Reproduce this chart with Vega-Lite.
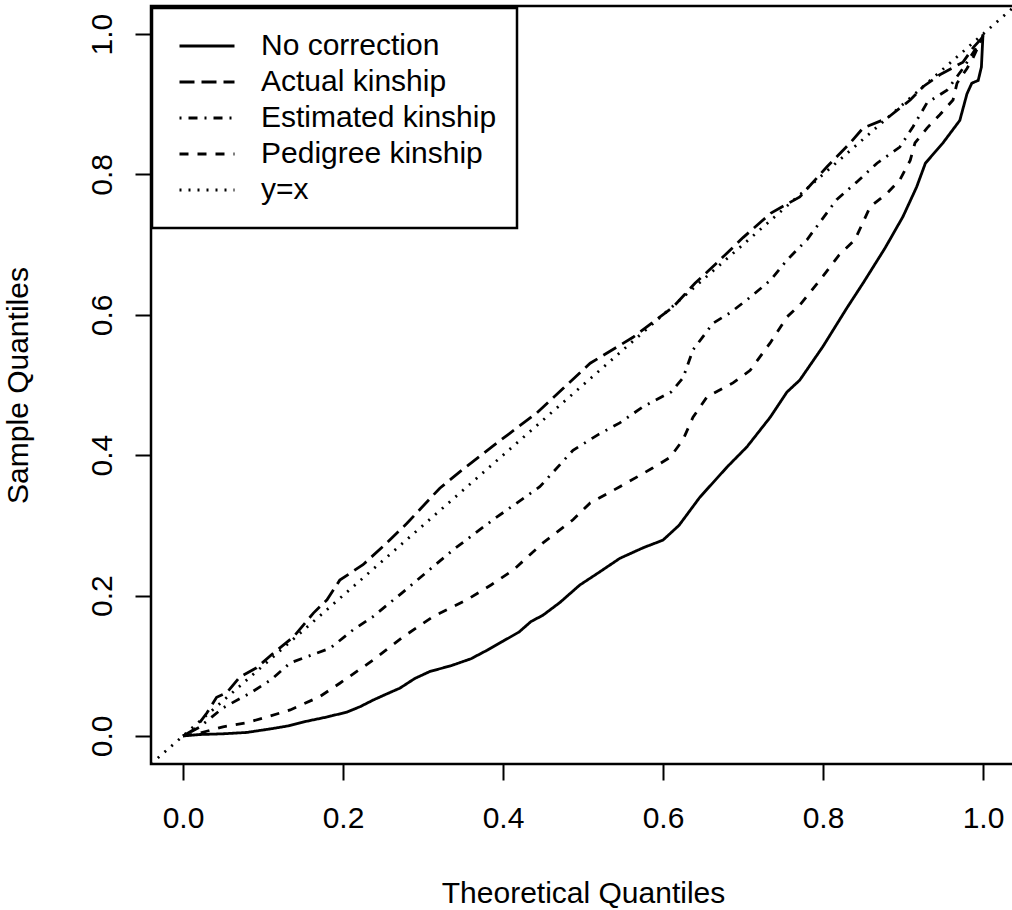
{
  "$schema": "https://vega.github.io/schema/vega-lite/v6.json",
  "width": 864,
  "height": 758,
  "autosize": {"type": "none"},
  "padding": {"left": 151, "top": 6, "right": 0, "bottom": 146},
  "background": "white",
  "config": {
    "font": "Liberation Sans",
    "view": {"stroke": "black", "strokeWidth": 2.5},
    "axis": {
      "grid": false,
      "domain": false,
      "tickColor": "black",
      "tickWidth": 2,
      "tickSize": 16,
      "labelColor": "black",
      "labelFontSize": 30,
      "labelFont": "Liberation Sans",
      "titleFont": "Liberation Sans",
      "titleFontSize": 30,
      "titleFontWeight": "normal",
      "titleColor": "black",
      "labelFlush": false,
      "labelOverlap": false
    },
    "legend": {
      "orient": "none",
      "legendX": 1,
      "legendY": 2,
      "strokeColor": "black",
      "strokeWidth": 2.5,
      "fillColor": "white",
      "padding": 20,
      "symbolType": "stroke",
      "symbolSize": 3025,
      "symbolStrokeColor": "black",
      "symbolOffset": 6,
      "labelOffset": 25,
      "labelFont": "Liberation Sans",
      "labelFontSize": 30,
      "labelColor": "black",
      "labelLimit": 400,
      "clipHeight": 36,
      "rowPadding": 0,
      "title": null
    }
  },
  "datasets": {
    "curves": [
      {"series": "No correction", "x": 0, "y": 0},
      {"series": "No correction", "x": 0.021, "y": 0.002},
      {"series": "No correction", "x": 0.05, "y": 0.003},
      {"series": "No correction", "x": 0.08, "y": 0.005},
      {"series": "No correction", "x": 0.109, "y": 0.01},
      {"series": "No correction", "x": 0.13, "y": 0.014},
      {"series": "No correction", "x": 0.155, "y": 0.021},
      {"series": "No correction", "x": 0.18, "y": 0.027},
      {"series": "No correction", "x": 0.205, "y": 0.034},
      {"series": "No correction", "x": 0.222, "y": 0.042},
      {"series": "No correction", "x": 0.2375, "y": 0.051},
      {"series": "No correction", "x": 0.255, "y": 0.06},
      {"series": "No correction", "x": 0.271, "y": 0.068},
      {"series": "No correction", "x": 0.29, "y": 0.082},
      {"series": "No correction", "x": 0.309, "y": 0.092},
      {"series": "No correction", "x": 0.335, "y": 0.1},
      {"series": "No correction", "x": 0.36, "y": 0.11},
      {"series": "No correction", "x": 0.38, "y": 0.122},
      {"series": "No correction", "x": 0.4, "y": 0.135},
      {"series": "No correction", "x": 0.42, "y": 0.148},
      {"series": "No correction", "x": 0.435, "y": 0.163},
      {"series": "No correction", "x": 0.45, "y": 0.172},
      {"series": "No correction", "x": 0.471, "y": 0.19},
      {"series": "No correction", "x": 0.496, "y": 0.215},
      {"series": "No correction", "x": 0.52, "y": 0.233},
      {"series": "No correction", "x": 0.546, "y": 0.253},
      {"series": "No correction", "x": 0.575, "y": 0.268},
      {"series": "No correction", "x": 0.6, "y": 0.279},
      {"series": "No correction", "x": 0.62, "y": 0.3},
      {"series": "No correction", "x": 0.646, "y": 0.34},
      {"series": "No correction", "x": 0.68, "y": 0.383},
      {"series": "No correction", "x": 0.705, "y": 0.412},
      {"series": "No correction", "x": 0.734, "y": 0.454},
      {"series": "No correction", "x": 0.755, "y": 0.49},
      {"series": "No correction", "x": 0.771, "y": 0.507},
      {"series": "No correction", "x": 0.8, "y": 0.555},
      {"series": "No correction", "x": 0.83, "y": 0.61},
      {"series": "No correction", "x": 0.85, "y": 0.645},
      {"series": "No correction", "x": 0.8775, "y": 0.695},
      {"series": "No correction", "x": 0.9, "y": 0.74},
      {"series": "No correction", "x": 0.917, "y": 0.782},
      {"series": "No correction", "x": 0.928, "y": 0.816},
      {"series": "No correction", "x": 0.95, "y": 0.845},
      {"series": "No correction", "x": 0.971, "y": 0.877},
      {"series": "No correction", "x": 0.98, "y": 0.915},
      {"series": "No correction", "x": 0.986, "y": 0.93},
      {"series": "No correction", "x": 0.994, "y": 0.934},
      {"series": "No correction", "x": 0.998, "y": 0.953},
      {"series": "No correction", "x": 1.0, "y": 1.0},

      {"series": "Actual kinship", "x": 0, "y": 0},
      {"series": "Actual kinship", "x": 0.015, "y": 0.01},
      {"series": "Actual kinship", "x": 0.03, "y": 0.033},
      {"series": "Actual kinship", "x": 0.042, "y": 0.055},
      {"series": "Actual kinship", "x": 0.055, "y": 0.062},
      {"series": "Actual kinship", "x": 0.071, "y": 0.084},
      {"series": "Actual kinship", "x": 0.092, "y": 0.097},
      {"series": "Actual kinship", "x": 0.113, "y": 0.118},
      {"series": "Actual kinship", "x": 0.138, "y": 0.141},
      {"series": "Actual kinship", "x": 0.163, "y": 0.175},
      {"series": "Actual kinship", "x": 0.18, "y": 0.194},
      {"series": "Actual kinship", "x": 0.196, "y": 0.222},
      {"series": "Actual kinship", "x": 0.225, "y": 0.244},
      {"series": "Actual kinship", "x": 0.25, "y": 0.27},
      {"series": "Actual kinship", "x": 0.28, "y": 0.303},
      {"series": "Actual kinship", "x": 0.321, "y": 0.353},
      {"series": "Actual kinship", "x": 0.35, "y": 0.38},
      {"series": "Actual kinship", "x": 0.392, "y": 0.417},
      {"series": "Actual kinship", "x": 0.442, "y": 0.46},
      {"series": "Actual kinship", "x": 0.475, "y": 0.495},
      {"series": "Actual kinship", "x": 0.509, "y": 0.531},
      {"series": "Actual kinship", "x": 0.5625, "y": 0.568},
      {"series": "Actual kinship", "x": 0.6125, "y": 0.611},
      {"series": "Actual kinship", "x": 0.64, "y": 0.645},
      {"series": "Actual kinship", "x": 0.671, "y": 0.678},
      {"series": "Actual kinship", "x": 0.7, "y": 0.71},
      {"series": "Actual kinship", "x": 0.735, "y": 0.745},
      {"series": "Actual kinship", "x": 0.771, "y": 0.768},
      {"series": "Actual kinship", "x": 0.805, "y": 0.811},
      {"series": "Actual kinship", "x": 0.834, "y": 0.845},
      {"series": "Actual kinship", "x": 0.85, "y": 0.866},
      {"series": "Actual kinship", "x": 0.88, "y": 0.88},
      {"series": "Actual kinship", "x": 0.909, "y": 0.906},
      {"series": "Actual kinship", "x": 0.925, "y": 0.925},
      {"series": "Actual kinship", "x": 0.946, "y": 0.942},
      {"series": "Actual kinship", "x": 0.975, "y": 0.96},
      {"series": "Actual kinship", "x": 0.988, "y": 0.981},
      {"series": "Actual kinship", "x": 1.0, "y": 0.996},

      {"series": "Estimated kinship", "x": 0, "y": 0},
      {"series": "Estimated kinship", "x": 0.02, "y": 0.012},
      {"series": "Estimated kinship", "x": 0.05, "y": 0.04},
      {"series": "Estimated kinship", "x": 0.084, "y": 0.061},
      {"series": "Estimated kinship", "x": 0.11, "y": 0.08},
      {"series": "Estimated kinship", "x": 0.134, "y": 0.104},
      {"series": "Estimated kinship", "x": 0.16, "y": 0.115},
      {"series": "Estimated kinship", "x": 0.184, "y": 0.125},
      {"series": "Estimated kinship", "x": 0.2125, "y": 0.151},
      {"series": "Estimated kinship", "x": 0.2375, "y": 0.17},
      {"series": "Estimated kinship", "x": 0.275, "y": 0.205},
      {"series": "Estimated kinship", "x": 0.3125, "y": 0.241},
      {"series": "Estimated kinship", "x": 0.3375, "y": 0.265},
      {"series": "Estimated kinship", "x": 0.3875, "y": 0.308},
      {"series": "Estimated kinship", "x": 0.446, "y": 0.355},
      {"series": "Estimated kinship", "x": 0.4875, "y": 0.407},
      {"series": "Estimated kinship", "x": 0.52, "y": 0.43},
      {"series": "Estimated kinship", "x": 0.546, "y": 0.446},
      {"series": "Estimated kinship", "x": 0.575, "y": 0.469},
      {"series": "Estimated kinship", "x": 0.61, "y": 0.49},
      {"series": "Estimated kinship", "x": 0.625, "y": 0.51},
      {"series": "Estimated kinship", "x": 0.6375, "y": 0.55},
      {"series": "Estimated kinship", "x": 0.6625, "y": 0.588},
      {"series": "Estimated kinship", "x": 0.684, "y": 0.603},
      {"series": "Estimated kinship", "x": 0.709, "y": 0.625},
      {"series": "Estimated kinship", "x": 0.735, "y": 0.65},
      {"series": "Estimated kinship", "x": 0.755, "y": 0.678},
      {"series": "Estimated kinship", "x": 0.78, "y": 0.707},
      {"series": "Estimated kinship", "x": 0.817, "y": 0.764},
      {"series": "Estimated kinship", "x": 0.842, "y": 0.789},
      {"series": "Estimated kinship", "x": 0.8675, "y": 0.816},
      {"series": "Estimated kinship", "x": 0.896, "y": 0.839},
      {"series": "Estimated kinship", "x": 0.9125, "y": 0.868},
      {"series": "Estimated kinship", "x": 0.93, "y": 0.902},
      {"series": "Estimated kinship", "x": 0.955, "y": 0.92},
      {"series": "Estimated kinship", "x": 0.975, "y": 0.951},
      {"series": "Estimated kinship", "x": 0.992, "y": 0.981},
      {"series": "Estimated kinship", "x": 1.0, "y": 0.995},

      {"series": "Pedigree kinship", "x": 0, "y": 0},
      {"series": "Pedigree kinship", "x": 0.021, "y": 0.004},
      {"series": "Pedigree kinship", "x": 0.05, "y": 0.013},
      {"series": "Pedigree kinship", "x": 0.08, "y": 0.019},
      {"series": "Pedigree kinship", "x": 0.105, "y": 0.027},
      {"series": "Pedigree kinship", "x": 0.134, "y": 0.037},
      {"series": "Pedigree kinship", "x": 0.171, "y": 0.056},
      {"series": "Pedigree kinship", "x": 0.196, "y": 0.075},
      {"series": "Pedigree kinship", "x": 0.2375, "y": 0.108},
      {"series": "Pedigree kinship", "x": 0.275, "y": 0.141},
      {"series": "Pedigree kinship", "x": 0.3125, "y": 0.17},
      {"series": "Pedigree kinship", "x": 0.355, "y": 0.194},
      {"series": "Pedigree kinship", "x": 0.385, "y": 0.215},
      {"series": "Pedigree kinship", "x": 0.4125, "y": 0.236},
      {"series": "Pedigree kinship", "x": 0.45, "y": 0.275},
      {"series": "Pedigree kinship", "x": 0.4875, "y": 0.308},
      {"series": "Pedigree kinship", "x": 0.509, "y": 0.332},
      {"series": "Pedigree kinship", "x": 0.546, "y": 0.355},
      {"series": "Pedigree kinship", "x": 0.5875, "y": 0.382},
      {"series": "Pedigree kinship", "x": 0.609, "y": 0.397},
      {"series": "Pedigree kinship", "x": 0.625, "y": 0.422},
      {"series": "Pedigree kinship", "x": 0.6375, "y": 0.454},
      {"series": "Pedigree kinship", "x": 0.655, "y": 0.483},
      {"series": "Pedigree kinship", "x": 0.6875, "y": 0.503},
      {"series": "Pedigree kinship", "x": 0.709, "y": 0.521},
      {"series": "Pedigree kinship", "x": 0.734, "y": 0.56},
      {"series": "Pedigree kinship", "x": 0.755, "y": 0.597},
      {"series": "Pedigree kinship", "x": 0.771, "y": 0.614},
      {"series": "Pedigree kinship", "x": 0.8, "y": 0.655},
      {"series": "Pedigree kinship", "x": 0.82, "y": 0.685},
      {"series": "Pedigree kinship", "x": 0.84, "y": 0.707},
      {"series": "Pedigree kinship", "x": 0.859, "y": 0.754},
      {"series": "Pedigree kinship", "x": 0.88, "y": 0.773},
      {"series": "Pedigree kinship", "x": 0.896, "y": 0.792},
      {"series": "Pedigree kinship", "x": 0.909, "y": 0.82},
      {"series": "Pedigree kinship", "x": 0.915, "y": 0.845},
      {"series": "Pedigree kinship", "x": 0.93, "y": 0.866},
      {"series": "Pedigree kinship", "x": 0.946, "y": 0.885},
      {"series": "Pedigree kinship", "x": 0.9625, "y": 0.906},
      {"series": "Pedigree kinship", "x": 0.9675, "y": 0.93},
      {"series": "Pedigree kinship", "x": 0.98, "y": 0.951},
      {"series": "Pedigree kinship", "x": 0.9875, "y": 0.966},
      {"series": "Pedigree kinship", "x": 0.996, "y": 0.987},
      {"series": "Pedigree kinship", "x": 1.0, "y": 0.998},

      {"series": "y=x", "x": -0.04, "y": -0.04},
      {"series": "y=x", "x": 1.04, "y": 1.04}
    ]
  },
  "data": {"name": "curves"},
  "mark": {"type": "line", "color": "black", "clip": true, "strokeCap": "butt"},
  "encoding": {
    "x": {
      "field": "x",
      "type": "quantitative",
      "scale": {"domain": [-0.04, 1.04], "nice": false, "zero": false},
      "axis": {
        "values": [0, 0.2, 0.4, 0.6, 0.8, 1],
        "format": ".1f",
        "labelPadding": 23,
        "titlePadding": 45,
        "title": "Theoretical Quantiles"
      }
    },
    "y": {
      "field": "y",
      "type": "quantitative",
      "scale": {"domain": [-0.04, 1.04], "nice": false, "zero": false},
      "axis": {
        "values": [0, 0.2, 0.4, 0.6, 0.8, 1],
        "format": ".1f",
        "labelAngle": -90,
        "labelAlign": "center",
        "labelBaseline": "alphabetic",
        "labelPadding": 24,
        "titlePadding": 54,
        "title": "Sample Quantiles"
      }
    },
    "strokeDash": {
      "field": "series",
      "type": "nominal",
      "scale": {
        "domain": ["No correction", "Actual kinship", "Estimated kinship", "Pedigree kinship", "y=x"],
        "range": [[1, 0], [15, 7], [2, 7, 9, 7], [9, 9], [2, 7]]
      },
      "legend": {"title": null}
    },
    "strokeWidth": {
      "field": "series",
      "type": "nominal",
      "scale": {
        "domain": ["No correction", "Actual kinship", "Estimated kinship", "Pedigree kinship", "y=x"],
        "range": [2.8, 2.8, 2.8, 2.8, 1.5]
      },
      "legend": {"title": null}
    }
  }
}
